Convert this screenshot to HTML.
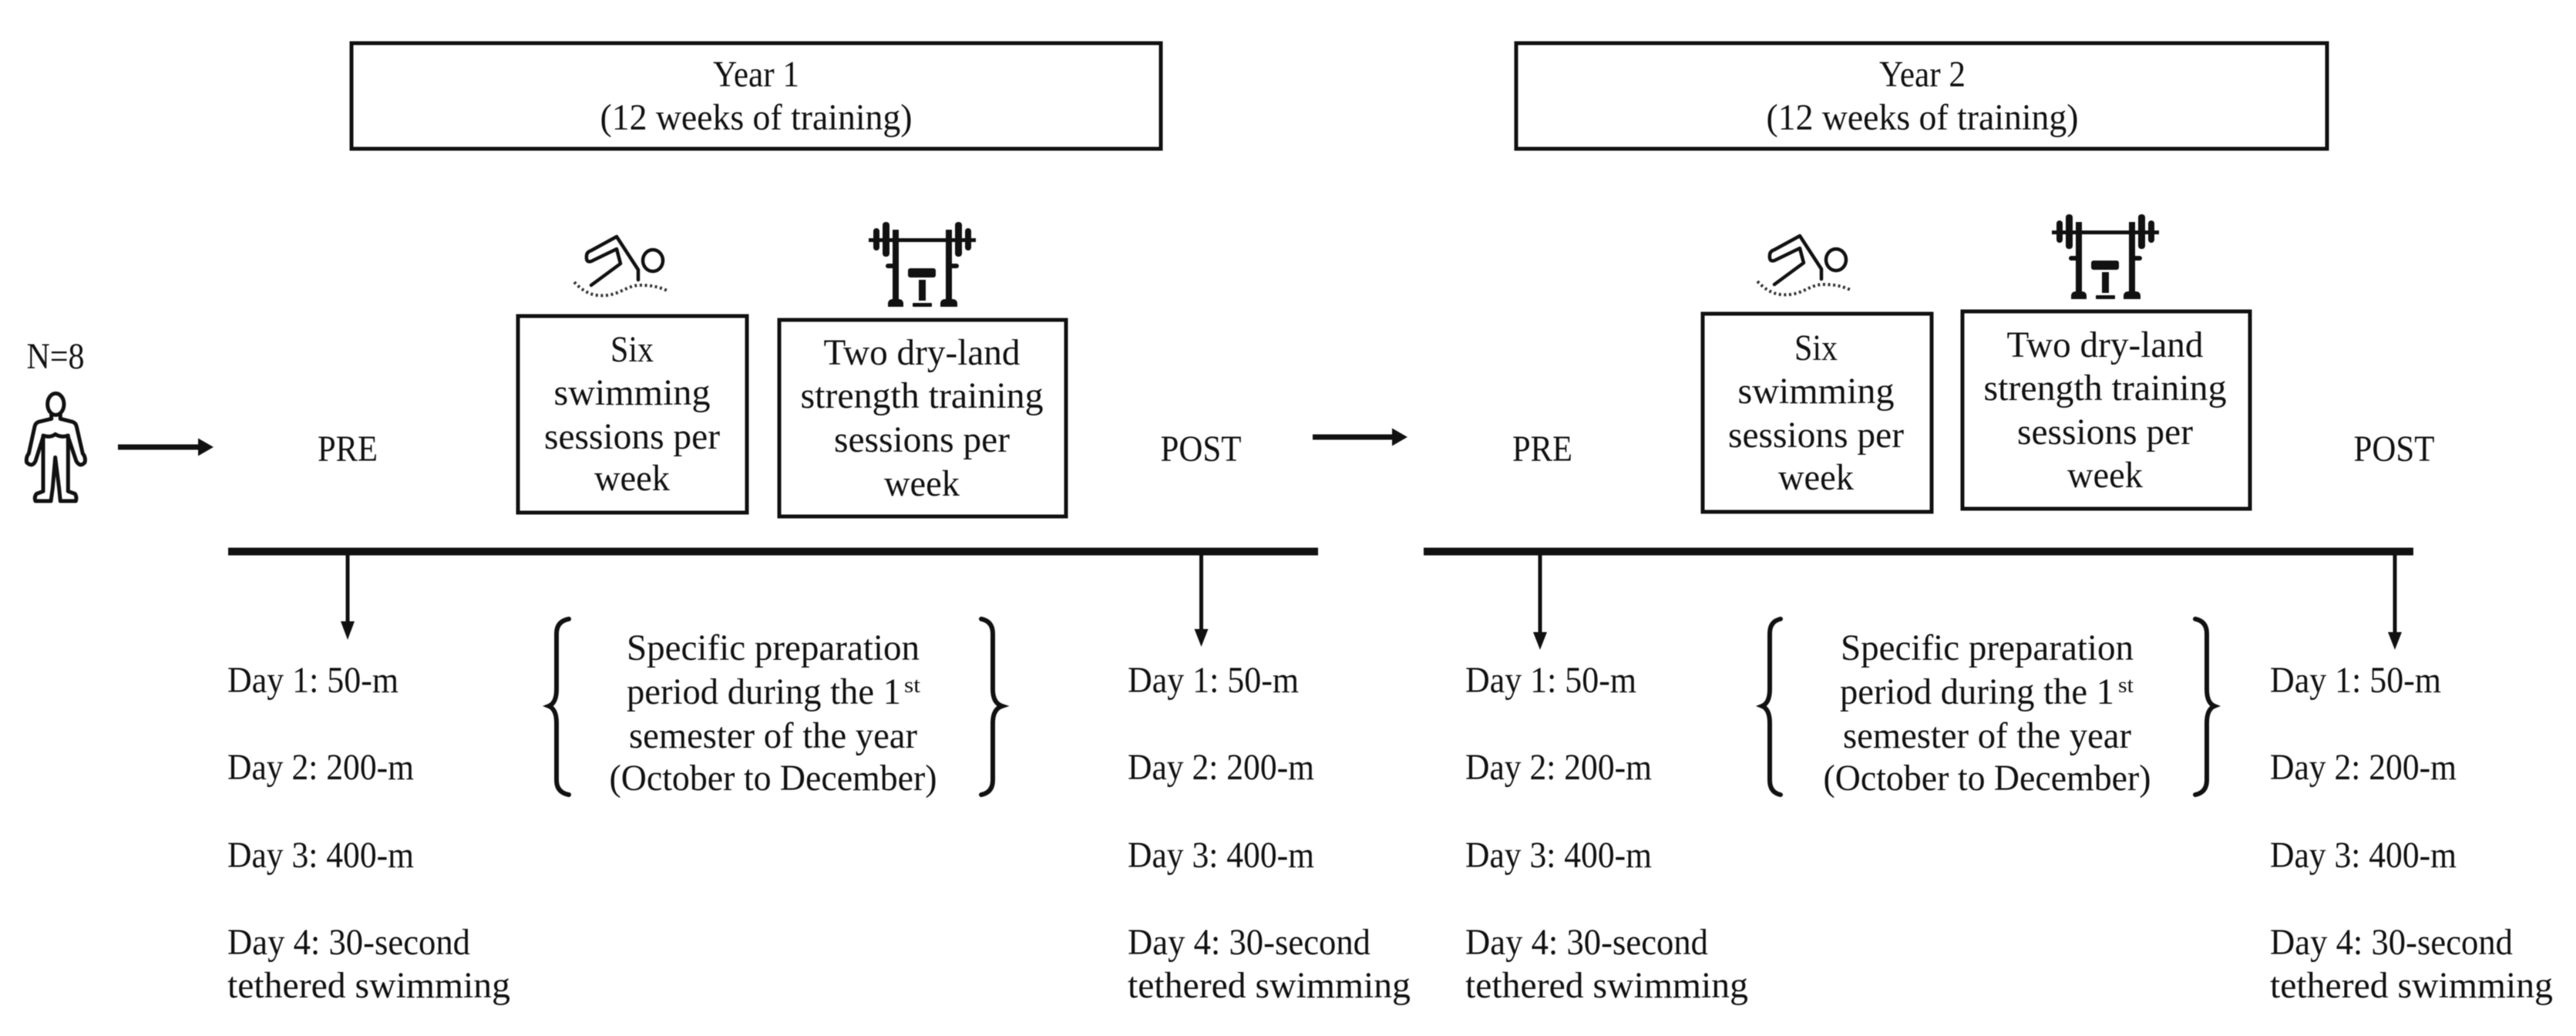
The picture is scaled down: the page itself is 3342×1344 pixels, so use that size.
<!DOCTYPE html>
<html><head><meta charset="utf-8"><style>
html,body{margin:0;padding:0;background:#fff}
svg{display:block;filter:blur(0.6px)}
text{font-family:"Liberation Serif",serif;font-size:48px;fill:#111}
.m{text-anchor:middle}
</style></head><body>
<svg width="3342" height="1344" viewBox="0 0 3342 1344" xmlns="http://www.w3.org/2000/svg">
<defs>
<g id="swim" fill="none" stroke="#111" stroke-width="4.5" stroke-linejoin="round" stroke-linecap="round">
<path d="M767 370L805 342L800 323L767 339Q760 341 761 332Q761 327 767 325L800 307L828 350V363"/>
<ellipse cx="847" cy="338" rx="13" ry="14"/>
<path d="M745 366C762 384 775 384 788 383C805 381 815 370 830 370C845 370 855 372 868 378" stroke-width="4" stroke-dasharray="3 3.6" stroke-linecap="butt" stroke="#333"/>
</g>
<g id="bar" fill="#111">
<rect x="1127" y="309" width="139" height="5"/>
<rect x="1158" y="298" width="8" height="95"/><rect x="1227" y="298" width="8" height="95"/>
<rect x="1145" y="288" width="9" height="45" rx="4"/><rect x="1239" y="288" width="9" height="45" rx="4"/>
<rect x="1133" y="296" width="8" height="29" rx="4"/><rect x="1252" y="296" width="8" height="29" rx="4"/>
<rect x="1149" y="342" width="13" height="6" rx="3"/><rect x="1231" y="342" width="13" height="6" rx="3"/>
<rect x="1178" y="348" width="36" height="12" rx="3"/>
<rect x="1192" y="363" width="9" height="27"/>
<rect x="1184" y="393" width="25" height="5" rx="1"/>
<path d="M1152 398V393Q1153 388 1158 388H1166Q1171 388 1172 393V398Z"/>
<path d="M1220 398V393Q1221 388 1226 388H1236Q1241 388 1242 393V398Z"/>
</g>
</defs>
<rect width="3342" height="1344" fill="#fff"/>

<!-- Boxes -->
<g fill="none" stroke="#111" stroke-width="5">
<rect x="456" y="56" width="1050" height="137"/>
<rect x="1967" y="56" width="1052" height="137"/>
<rect x="672" y="410" width="297" height="255"/>
<rect x="1011" y="415" width="372" height="255"/>
<rect x="2209" y="407" width="297" height="257"/>
<rect x="2546" y="404" width="373" height="256"/>
</g>

<!-- Top text -->
<text class="m" x="981" y="112" textLength="112" lengthAdjust="spacingAndGlyphs">Year 1</text>
<text class="m" x="981" y="168" textLength="405" lengthAdjust="spacingAndGlyphs">(12 weeks of training)</text>
<text class="m" x="2494" y="112" textLength="112" lengthAdjust="spacingAndGlyphs">Year 2</text>
<text class="m" x="2494" y="168" textLength="405" lengthAdjust="spacingAndGlyphs">(12 weeks of training)</text>

<!-- Box text Y1 -->
<text class="m" x="820" y="469" textLength="56" lengthAdjust="spacingAndGlyphs">Six</text>
<text class="m" x="820" y="525" textLength="203" lengthAdjust="spacingAndGlyphs">swimming</text>
<text class="m" x="820" y="582" textLength="228" lengthAdjust="spacingAndGlyphs">sessions per</text>
<text class="m" x="820" y="636" textLength="98" lengthAdjust="spacingAndGlyphs">week</text>
<text class="m" x="1196" y="473" textLength="255" lengthAdjust="spacingAndGlyphs">Two dry-land</text>
<text class="m" x="1196" y="529" textLength="315" lengthAdjust="spacingAndGlyphs">strength training</text>
<text class="m" x="1196" y="586" textLength="228" lengthAdjust="spacingAndGlyphs">sessions per</text>
<text class="m" x="1196" y="643" textLength="98" lengthAdjust="spacingAndGlyphs">week</text>
<!-- Box text Y2 -->
<text class="m" x="2356" y="467" textLength="56" lengthAdjust="spacingAndGlyphs">Six</text>
<text class="m" x="2356" y="523" textLength="203" lengthAdjust="spacingAndGlyphs">swimming</text>
<text class="m" x="2356" y="580" textLength="228" lengthAdjust="spacingAndGlyphs">sessions per</text>
<text class="m" x="2356" y="635" textLength="98" lengthAdjust="spacingAndGlyphs">week</text>
<text class="m" x="2731" y="463" textLength="255" lengthAdjust="spacingAndGlyphs">Two dry-land</text>
<text class="m" x="2731" y="519" textLength="315" lengthAdjust="spacingAndGlyphs">strength training</text>
<text class="m" x="2731" y="576" textLength="228" lengthAdjust="spacingAndGlyphs">sessions per</text>
<text class="m" x="2731" y="632" textLength="98" lengthAdjust="spacingAndGlyphs">week</text>

<!-- PRE/POST -->
<text class="m" x="451" y="598" textLength="78" lengthAdjust="spacingAndGlyphs">PRE</text>
<text class="m" x="1558" y="598" textLength="105" lengthAdjust="spacingAndGlyphs">POST</text>
<text class="m" x="2001" y="598" textLength="78" lengthAdjust="spacingAndGlyphs">PRE</text>
<text class="m" x="3106" y="598" textLength="105" lengthAdjust="spacingAndGlyphs">POST</text>

<!-- N=8 and person -->
<text class="m" x="72" y="478" textLength="75" lengthAdjust="spacingAndGlyphs">N=8</text>
<g transform="translate(0,430) scale(0.3333)" fill="none" stroke="#111" stroke-width="15" stroke-linejoin="round" stroke-linecap="round">
<ellipse cx="217" cy="283" rx="32" ry="42"/>
<path d="M200 325V340L150 352Q138 356 135 370L112 475Q100 490 104 510Q125 530 138 505L168 410V500L168 622L142 632Q132 645 138 660H198L205 610L215 490L230 610L235 660H295Q300 645 292 632L265 622V500V410L297 505Q312 530 330 510Q335 490 322 475L298 370Q295 356 283 352L235 340V325"/>
<path d="M168 405Q195 415 215 400Q240 415 265 405"/>
</g>

<!-- Horizontal arrows -->
<g fill="#111">
<rect x="153" y="576.500" width="108" height="7"/><path d="M257 568.500L277 580L257 591.500Z"/>
<rect x="1703" y="563.500" width="108" height="7"/><path d="M1806 555.500L1826 567L1806 578.500Z"/>
</g>

<!-- Timelines -->
<rect x="296" y="710.500" width="1414" height="10" fill="#111"/>
<rect x="1847" y="710.500" width="1284" height="10" fill="#111"/>

<!-- Down arrows -->
<g fill="#111">
<rect x="448.500" y="720" width="5" height="90"/><path d="M442 806H460L451 830Z"/>
<rect x="1556" y="720" width="5" height="100"/><path d="M1549.500 816H1567.500L1558.500 839Z"/>
<rect x="1995.500" y="720" width="5" height="104"/><path d="M1989 820H2007L1998 843Z"/>
<rect x="3104.500" y="720" width="5" height="104"/><path d="M3098 820H3116L3107 843Z"/>
</g>

<!-- Braces -->
<g fill="none" stroke="#111" stroke-width="6" stroke-linecap="round">
<path d="M738 803Q722 806 722 822V894Q722 912 712 916Q722 920 722 938V1012Q722 1028 738 1031"/>
<path d="M1273 803Q1288 806 1288 822V894Q1288 912 1300 916Q1288 920 1288 938V1012Q1288 1028 1273 1031"/>
<path d="M2310 803Q2296 806 2296 822V894Q2296 912 2286 916Q2296 920 2296 938V1012Q2296 1028 2310 1031"/>
<path d="M2848 803Q2863 806 2863 822V894Q2863 912 2873 916Q2863 920 2863 938V1012Q2863 1028 2848 1031"/>
</g>

<!-- Specific text Y1 -->
<text class="m" x="1003" y="856" textLength="380" lengthAdjust="spacingAndGlyphs">Specific preparation</text>
<text x="813" y="913" textLength="356" lengthAdjust="spacingAndGlyphs">period during the 1</text>
<text x="1173" y="898" style="font-size:28px" textLength="21" lengthAdjust="spacingAndGlyphs">st</text>
<text class="m" x="1003" y="970" textLength="374" lengthAdjust="spacingAndGlyphs">semester of the year</text>
<text class="m" x="1003" y="1025" textLength="425" lengthAdjust="spacingAndGlyphs">(October to December)</text>
<!-- Specific text Y2 -->
<text class="m" x="2578" y="856" textLength="380" lengthAdjust="spacingAndGlyphs">Specific preparation</text>
<text x="2387" y="913" textLength="356" lengthAdjust="spacingAndGlyphs">period during the 1</text>
<text x="2748" y="898" style="font-size:28px" textLength="20" lengthAdjust="spacingAndGlyphs">st</text>
<text class="m" x="2578" y="970" textLength="374" lengthAdjust="spacingAndGlyphs">semester of the year</text>
<text class="m" x="2578" y="1025" textLength="425" lengthAdjust="spacingAndGlyphs">(October to December)</text>

<!-- Day columns -->
<text x="295" y="898" textLength="222" lengthAdjust="spacingAndGlyphs">Day 1: 50-m</text>
<text x="295" y="1011" textLength="242" lengthAdjust="spacingAndGlyphs">Day 2: 200-m</text>
<text x="295" y="1125" textLength="242" lengthAdjust="spacingAndGlyphs">Day 3: 400-m</text>
<text x="295" y="1238" textLength="315" lengthAdjust="spacingAndGlyphs">Day 4: 30-second</text>
<text x="295" y="1294" textLength="367" lengthAdjust="spacingAndGlyphs">tethered swimming</text>

<text x="1463" y="898" textLength="222" lengthAdjust="spacingAndGlyphs">Day 1: 50-m</text>
<text x="1463" y="1011" textLength="242" lengthAdjust="spacingAndGlyphs">Day 2: 200-m</text>
<text x="1463" y="1125" textLength="242" lengthAdjust="spacingAndGlyphs">Day 3: 400-m</text>
<text x="1463" y="1238" textLength="315" lengthAdjust="spacingAndGlyphs">Day 4: 30-second</text>
<text x="1463" y="1294" textLength="367" lengthAdjust="spacingAndGlyphs">tethered swimming</text>

<text x="1901" y="898" textLength="222" lengthAdjust="spacingAndGlyphs">Day 1: 50-m</text>
<text x="1901" y="1011" textLength="242" lengthAdjust="spacingAndGlyphs">Day 2: 200-m</text>
<text x="1901" y="1125" textLength="242" lengthAdjust="spacingAndGlyphs">Day 3: 400-m</text>
<text x="1901" y="1238" textLength="315" lengthAdjust="spacingAndGlyphs">Day 4: 30-second</text>
<text x="1901" y="1294" textLength="367" lengthAdjust="spacingAndGlyphs">tethered swimming</text>

<text x="2945" y="898" textLength="222" lengthAdjust="spacingAndGlyphs">Day 1: 50-m</text>
<text x="2945" y="1011" textLength="242" lengthAdjust="spacingAndGlyphs">Day 2: 200-m</text>
<text x="2945" y="1125" textLength="242" lengthAdjust="spacingAndGlyphs">Day 3: 400-m</text>
<text x="2945" y="1238" textLength="315" lengthAdjust="spacingAndGlyphs">Day 4: 30-second</text>
<text x="2945" y="1294" textLength="367" lengthAdjust="spacingAndGlyphs">tethered swimming</text>

<!-- Icons -->
<use href="#swim"/>
<use href="#bar"/>
<use href="#swim" transform="translate(1535,-1)"/>
<use href="#bar" transform="translate(1535,-10)"/>
</svg>
</body></html>
